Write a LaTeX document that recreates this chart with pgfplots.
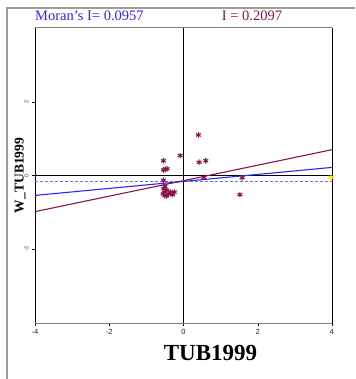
\documentclass[border=0pt]{standalone}
\usepackage{fontspec}
\setmainfont{Liberation Serif}
\setsansfont{Liberation Sans}
\usepackage{pgfplots}
\pgfplotsset{compat=1.18}
\definecolor{mblue}{RGB}{40,40,255}
\definecolor{mpurple}{RGB}{139,20,75}
\definecolor{lblue}{RGB}{110,110,255}
\definecolor{frame}{RGB}{160,160,145}
\begin{document}
\begin{tikzpicture}[x=1pt,y=1pt]
\useasboundingbox (-35,-56) rectangle (320,323);
\fill[white] (-35,-56) rectangle (320,323);
\draw[frame, line width=1.6pt] (-28,-56) -- (-28,315) -- (320,315);
\begin{axis}[
  at={(0,0)}, anchor=south west,
  scale only axis, width=297pt, height=295pt,
  xmin=-4, xmax=4, ymin=-4, ymax=4,
  axis line style={draw=none},
  xtick={-4,-2,0,2,4},
  ytick={-2,0,2},
  tick style={black, thin},
  tick align=outside,
  major tick length=3pt,
  xticklabel style={font=\sffamily\fontsize{7.5}{8}\selectfont, text=black!85},
  yticklabel style={font=\sffamily\fontsize{5.5}{6}\selectfont, rotate=90, text=black!80},
  /pgf/number format/assume math mode=true,
  xtick pos=bottom, ytick pos=left,
  clip=false,
]
% box
\draw[gray, line width=1pt] (rel axis cs:0,0) -- (rel axis cs:1,0);
\draw[gray, line width=1pt] (rel axis cs:0,1) -- (rel axis cs:1,1);
\draw[black, line width=0.8pt] (rel axis cs:0,0) -- (rel axis cs:0,1);
\draw[black, line width=0.8pt] (rel axis cs:1,0) -- (rel axis cs:1,1);
\draw[black, line width=0.7pt] (axis cs:0,-4) -- (axis cs:0,4);
\draw[black, line width=0.7pt] (axis cs:-4,0) -- (axis cs:4,0);
% regression lines
\addplot[draw=lblue, line width=1.6pt, dash pattern=on 3pt off 2pt] coordinates {(-4,-0.16) (4,-0.16)};
\addplot[draw=mblue, line width=1.1pt] coordinates {(-4,-0.54) (4,0.22)};
\addplot[draw=mpurple, line width=1.1pt] coordinates {(-4,-0.98) (4,0.70)};
% points
\addplot[only marks, mark=asterisk, mark size=2.8pt, mpurple, line width=1.1pt] coordinates {
(0.40,1.10) (-0.09,0.54) (-0.54,0.40) (0.42,0.36) (0.60,0.40)
(-0.54,0.15) (-0.44,0.18) (-0.49,0.17) (0.55,-0.05) (1.58,-0.06) (1.52,-0.52)
(-0.54,-0.13) (-0.53,-0.35) (-0.52,-0.45) (-0.50,-0.55) (-0.45,-0.40)
(-0.40,-0.50) (-0.35,-0.45) (-0.25,-0.45) (-0.50,-0.30) (-0.45,-0.55)
(-0.30,-0.52) (-0.55,-0.50)
};
\addplot[only marks, mark=asterisk, mark size=2.8pt, yellow!90!orange, line width=1.1pt] coordinates {(3.97,-0.05)};
\end{axis}
\node[anchor=west, text=mblue, font=\fontsize{14.5}{16}\selectfont, inner sep=0pt] at (0,307) {Moran's I= 0.0957};
\node[text=mpurple, font=\fontsize{14.5}{16}\selectfont, inner sep=0pt] at (252-35,307) {I = 0.2097};
\node[rotate=90, font=\bfseries\fontsize{13.5}{15}\selectfont, inner sep=0pt] at (-15,147.5) {W\_TUB1999};
\node[font=\bfseries\fontsize{23}{25}\selectfont, inner sep=0pt] at (175.5,-30) {TUB1999};
\end{tikzpicture}
\end{document}
